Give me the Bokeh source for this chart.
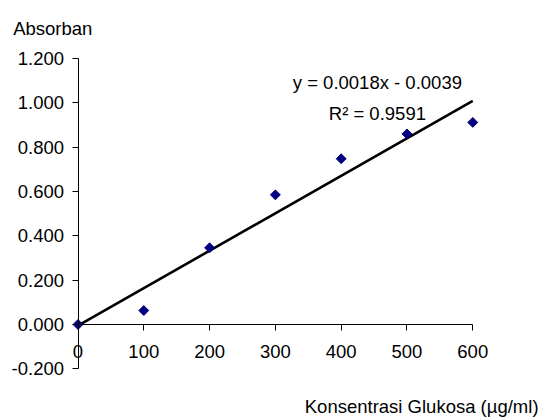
import numpy as np
from bokeh.plotting import figure
from bokeh.models import FixedTicker, NumeralTickFormatter, Label, Range1d
from bokeh.embed import file_html
from bokeh.resources import INLINE

# data
konsentrasi = [0, 100, 200, 300, 400, 500, 600]
absorban = [0.000, 0.063, 0.346, 0.585, 0.748, 0.860, 0.912]
x_ticks = [0, 100, 200, 300, 400, 500, 600]
y_ticks = [-0.2, 0.0, 0.2, 0.4, 0.6, 0.8, 1.0, 1.2]
eq_text = "y = 0.0018x - 0.0039"
r2_text = "R\u00b2 = 0.9591"
x_title = "Konsentrasi Glukosa (\u00b5g/ml)"
y_title = "Absorban"

FONT = "Liberation Sans"
FS = "18.5px"

p = figure(width=542, height=419, output_backend="svg", toolbar_location=None,
           x_range=Range1d(-117.8, 706.0), y_range=Range1d(-0.4287, 1.462),
           min_border_left=0, min_border_right=0, min_border_top=0, min_border_bottom=0)
p.outline_line_color = None
p.xgrid.visible = False
p.ygrid.visible = False
p.background_fill_color = "white"
p.border_fill_color = "white"

for ax in (p.xaxis[0], p.yaxis[0]):
    ax.fixed_location = 0
    ax.axis_line_color = "black"
    ax.axis_line_width = 1
    ax.major_tick_line_color = "black"
    ax.major_tick_in = 0
    ax.major_tick_out = 6
    ax.minor_tick_line_color = None
    ax.major_label_text_font = FONT
    ax.major_label_text_font_size = FS
    ax.major_label_text_color = "black"

p.xaxis[0].bounds = (0, 600)
p.xaxis[0].ticker = FixedTicker(ticks=x_ticks)
p.xaxis[0].major_label_standoff = 15
p.yaxis[0].bounds = (-0.2, 1.2)
p.yaxis[0].ticker = FixedTicker(ticks=y_ticks)
p.yaxis[0].formatter = NumeralTickFormatter(format="0.000")
p.yaxis[0].major_label_standoff = 8

# trend line from least squares fit
slope, intercept = np.polyfit(konsentrasi, absorban, 1)
xs = np.array([min(konsentrasi), max(konsentrasi)])
p.line(xs, slope * xs + intercept, line_color="black", line_width=2.6)

p.scatter(konsentrasi, absorban, marker="square", size=7, angle=np.pi / 4,
          fill_color="#000080", line_color="#000080")

p.add_layout(Label(x=455, y=1.092, text=eq_text, text_align="center",
                   text_baseline="alphabetic", text_font=FONT, text_font_size=FS,
                   text_color="black"))
p.add_layout(Label(x=455, y=0.95, text=r2_text, text_align="center",
                   text_baseline="alphabetic", text_font=FONT, text_font_size=FS,
                   text_color="black"))
p.add_layout(Label(x=700, y=-0.372, text=x_title, text_align="right",
                   text_baseline="alphabetic", text_font=FONT, text_font_size=FS,
                   text_color="black"))
p.add_layout(Label(x=-98.5, y=1.336, text=y_title, text_align="left",
                   text_baseline="alphabetic", text_font=FONT, text_font_size=FS,
                   text_color="black"))

open("out.html", "w").write(file_html(p, INLINE))
